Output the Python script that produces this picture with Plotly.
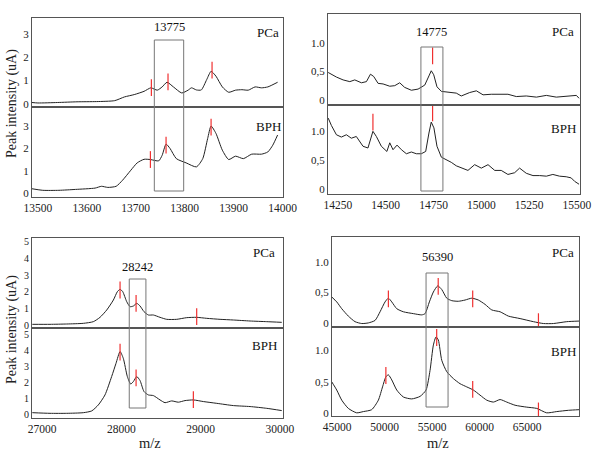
import plotly.graph_objects as go

W, H = 600, 452
FONT = "Liberation Serif, Times New Roman, serif"

# ---------------- data ----------------
# Panel A (13500-14000)
a_x_pca = [13488,13500,13540,13580,13620,13657,13677,13697,13717,13731,13744,13754,13764,13777,13794,13807,13814,13824,13834,13845,13854,13864,13877,13890,13904,13917,13930,13944,13957,13970,13990]
a_y_pca = [0.06,0.04,0.06,0.09,0.10,0.14,0.30,0.40,0.54,0.69,0.59,0.73,0.93,0.73,0.47,0.59,0.69,0.60,0.60,1.04,1.40,1.19,0.73,0.50,0.59,0.61,0.59,0.73,0.69,0.73,0.93]
a_x_bph = [13488,13510,13543,13577,13617,13630,13643,13660,13673,13690,13703,13717,13730,13747,13754,13762,13770,13783,13803,13824,13837,13847,13854,13864,13877,13890,13904,13920,13937,13957,13970,13980,13990]
a_y_bph = [0.19,0.12,0.12,0.16,0.22,0.30,0.25,0.30,0.57,1.02,1.35,1.51,1.50,1.44,1.69,2.19,2.00,1.54,1.35,1.17,1.54,2.44,3.00,2.67,1.92,1.50,1.65,1.54,1.74,1.74,1.84,2.14,2.60]
a_peak_x_pca = [13732, 13766, 13856]
a_peak_y_pca = [0.70, 0.95, 1.45]
a_peak_x_bph = [13730, 13762, 13854]
a_peak_y_bph = [1.50, 2.15, 2.95]

# Panel B (14250-15500)
b_x_pca = [14199,14242,14277,14312,14338,14373,14399,14420,14437,14460,14486,14521,14547,14573,14599,14634,14669,14704,14726,14738,14751,14768,14791,14834,14869,14895,14939,14974,15009,15052,15096,15139,15183,15235,15288,15340,15392,15445,15497,15511]
b_y_pca = [0.48,0.40,0.35,0.32,0.35,0.30,0.32,0.45,0.41,0.29,0.28,0.24,0.25,0.30,0.22,0.17,0.19,0.26,0.42,0.51,0.44,0.23,0.15,0.13,0.12,0.07,0.13,0.16,0.09,0.10,0.10,0.10,0.06,0.07,0.05,0.08,0.05,0.06,0.08,0.03]
b_x_bph = [14199,14216,14242,14268,14294,14320,14346,14381,14407,14425,14433,14451,14477,14506,14521,14538,14559,14582,14608,14634,14660,14686,14709,14726,14738,14752,14768,14791,14817,14843,14869,14904,14930,14965,15000,15035,15070,15104,15139,15174,15200,15235,15270,15305,15340,15374,15409,15444,15470,15488,15511]
b_y_bph = [1.23,1.10,0.94,0.90,0.94,0.88,0.91,0.74,0.71,0.91,1.00,0.91,0.74,0.65,0.80,0.68,0.76,0.68,0.61,0.64,0.61,0.61,0.65,0.97,1.16,1.06,0.74,0.55,0.51,0.46,0.40,0.36,0.32,0.42,0.36,0.42,0.32,0.32,0.25,0.28,0.36,0.27,0.23,0.23,0.22,0.25,0.22,0.21,0.19,0.13,0.08]
b_peak_x_pca = [14745]
b_peak_y_pca = [0.77]
b_peak_x_bph = [14433, 14745]
b_peak_y_bph = [1.16, 1.32]

# Panel C (27000-30000)
c_x_pca = [26878,27101,27311,27521,27647,27731,27816,27900,27950,27984,28018,28068,28110,28152,28194,28236,28286,28341,28404,28488,28572,28698,28824,28950,29077,29245,29413,29623,29833,30022]
c_y_pca = [0.04,0.04,0.06,0.10,0.20,0.46,0.90,1.50,2.00,2.14,2.00,1.40,1.10,1.14,1.30,1.14,0.80,0.60,0.60,0.46,0.34,0.34,0.44,0.46,0.40,0.34,0.30,0.24,0.20,0.16]
c_x_bph = [26878,27101,27311,27521,27627,27710,27794,27878,27933,27984,28025,28076,28118,28152,28194,28236,28286,28341,28404,28488,28551,28635,28719,28803,28908,29034,29203,29413,29623,29833,30022]
c_y_bph = [0.14,0.10,0.10,0.14,0.25,0.62,1.24,2.38,3.20,3.93,3.51,2.38,1.92,2.07,2.38,2.13,1.45,1.24,1.20,0.93,0.76,0.87,0.79,0.89,0.93,0.83,0.72,0.58,0.52,0.41,0.27]
c_peak_x_pca = [27984, 28186, 28950]
c_peak_y_pca = [2.10, 1.30, 0.50]
c_peak_x_bph = [27984, 28186, 28908]
c_peak_y_bph = [3.90, 2.30, 0.95]

# Panel D (45000-65000)
d_x_pca = [44442,44968,45495,46190,46895,47600,48296,49000,49528,50054,50405,50760,51286,51984,53036,53920,54266,54720,55140,55603,56024,56550,57077,57772,58477,59180,59876,60580,61288,62164,63038,64270,65670,66720,67780,69180,70510]
d_y_pca = [0.43,0.35,0.24,0.12,0.03,0.00,0.01,0.05,0.19,0.35,0.41,0.35,0.24,0.19,0.16,0.14,0.16,0.35,0.51,0.61,0.55,0.41,0.37,0.36,0.38,0.41,0.38,0.31,0.22,0.19,0.12,0.08,0.03,0.00,0.00,0.03,0.04]
d_x_bph = [44442,44968,45495,46190,47070,47775,48650,49350,49790,50140,50405,50760,51286,51984,52860,53740,54370,54790,55140,55420,55665,56024,56550,57253,57950,58650,59350,60050,60760,61460,62164,62860,63740,64970,66020,67070,68130,69360,70510]
d_y_bph = [0.50,0.37,0.21,0.08,0.01,0.03,0.06,0.21,0.42,0.58,0.61,0.53,0.37,0.26,0.23,0.27,0.37,0.68,1.08,1.21,1.16,0.84,0.66,0.55,0.47,0.42,0.37,0.29,0.21,0.18,0.22,0.18,0.13,0.10,0.08,0.01,0.03,0.05,0.06]
d_peak_x_pca = [50405, 55650, 59280, 66200]
d_peak_y_pca = [0.40, 0.60, 0.40, 0.03]
d_peak_x_bph = [50140, 55490, 59280, 66200]
d_peak_y_bph = [0.60, 1.20, 0.38, 0.04]

# highlighted windows and their labels
box_labels = ["13775", "14775", "28242", "56390"]
box_x0 = [13738, 14684, 28100, 54370]
box_x1 = [13798, 14799, 28310, 56687]

a_ticks = [13500, 13600, 13700, 13800, 13900, 14000]
b_ticks = [14250, 14500, 14750, 15000, 15250, 15500]
c_ticks = [27000, 28000, 29000, 30000]
d_ticks = [45000, 50000, 55000, 60000, 65000]
y_int3 = [0, 1, 2, 3]
y_int5 = [0, 1, 2, 3, 4, 5]
y_half_vals = [0, 0.5, 1.0]
y_half_text = ["0", "0,5", "1.0"]

# ---------------- layout helpers ----------------
def px_x(p):
    return p / W

def px_y(p):
    return 1 - p / H

fig = go.Figure()

panels = [
    dict(xp=(32, 283), yp_p=(18, 106), yp_b=(108, 197), xr=[13488, 14001], xt=a_ticks,
         yr_p=[-0.09, 3.69], yr_b=[-0.18, 3.81], yv=y_int3, yt=[str(v) for v in y_int3], yfs=11,
         d=(a_x_pca, a_y_pca, a_x_bph, a_y_bph, a_peak_x_pca, a_peak_y_pca, a_peak_x_bph, a_peak_y_bph),
         shape="spline", box_y=(40, 191), lab_y=27,
         pca_lab=(268, 32), bph_lab=(268, 127)),
    dict(xp=(328, 580), yp_p=(14, 104), yp_b=(106, 194), xr=[14198, 15516], xt=b_ticks,
         yr_p=[-0.07, 1.50], yr_b=[-0.09, 1.44], yv=y_half_vals, yt=y_half_text, yfs=11,
         d=(b_x_pca, b_y_pca, b_x_bph, b_y_bph, b_peak_x_pca, b_peak_y_pca, b_peak_x_bph, b_peak_y_bph),
         shape="linear", box_y=(47, 191), lab_y=32,
         pca_lab=(563, 31), bph_lab=(563, 128)),
    dict(xp=(32, 283), yp_p=(238, 327), yp_b=(329, 418), xr=[26874, 30038], xt=c_ticks,
         yr_p=[-0.12, 5.22], yr_b=[-0.19, 5.33], yv=y_int5, yt=[str(v) for v in y_int5], yfs=10,
         d=(c_x_pca, c_y_pca, c_x_bph, c_y_bph, c_peak_x_pca, c_peak_y_pca, c_peak_x_bph, c_peak_y_bph),
         shape="spline", box_y=(279, 408), lab_y=267,
         pca_lab=(264, 252), bph_lab=(264, 345)),
    dict(xp=(332, 579), yp_p=(237, 326), yp_b=(328, 416), xr=[44470, 70470], xt=d_ticks,
         yr_p=[-0.04, 1.40], yr_b=[-0.04, 1.35], yv=y_half_vals, yt=y_half_text, yfs=11,
         d=(d_x_pca, d_y_pca, d_x_bph, d_y_bph, d_peak_x_pca, d_peak_y_pca, d_peak_x_bph, d_peak_y_bph),
         shape="spline", box_y=(273, 407), lab_y=257,
         pca_lab=(563, 252), bph_lab=(563, 351)),
]

layout = {}
annotations = []
shapes = []
n = 0
for i, P in enumerate(panels):
    xpca, ypca, xbph, ybph, pxp, pyp, pxb, pyb = P["d"]
    for sub in ("pca", "bph"):
        n += 1
        xa = "x" if n == 1 else f"x{n}"
        ya = "y" if n == 1 else f"y{n}"
        xkey = "xaxis" if n == 1 else f"xaxis{n}"
        ykey = "yaxis" if n == 1 else f"yaxis{n}"
        ypx = P["yp_p"] if sub == "pca" else P["yp_b"]
        layout[xkey] = dict(
            domain=[px_x(P["xp"][0]), px_x(P["xp"][1])], anchor=ya,
            range=P["xr"], tickvals=P["xt"], ticktext=[str(t) for t in P["xt"]],
            showticklabels=(sub == "bph"), ticks="", showgrid=False, zeroline=False,
            showline=True, mirror=True, linecolor="#555", linewidth=1, automargin=False,
            tickfont=dict(family=FONT, size=11.5, color="#222"),
        )
        layout[ykey] = dict(
            domain=[px_y(ypx[1]), px_y(ypx[0])], anchor=xa,
            range=P["yr_p"] if sub == "pca" else P["yr_b"],
            tickvals=P["yv"], ticktext=P["yt"], ticks="", showgrid=False, zeroline=False,
            showline=True, mirror=True, linecolor="#555", linewidth=1, automargin=False,
            tickfont=dict(family=FONT, size=P["yfs"], color="#222"),
        )
        xs, ys = (xpca, ypca) if sub == "pca" else (xbph, ybph)
        kx, ky = (pxp, pyp) if sub == "pca" else (pxb, pyb)
        fig.add_trace(go.Scatter(x=xs, y=ys, mode="lines", xaxis=xa, yaxis=ya,
                                 line=dict(color="#222", width=1, shape=P["shape"], smoothing=0.6),
                                 showlegend=False, hoverinfo="skip"))
        fig.add_trace(go.Scatter(x=kx, y=ky, mode="markers", xaxis=xa, yaxis=ya,
                                 marker=dict(symbol="line-ns", size=12,
                                             line=dict(color="#f03030", width=1.2)),
                                 showlegend=False, hoverinfo="skip"))
        lab = P["pca_lab"] if sub == "pca" else P["bph_lab"]
        annotations.append(dict(text="PCa" if sub == "pca" else "BPH",
                                x=px_x(lab[0]), y=px_y(lab[1]), xref="paper", yref="paper",
                                xanchor="center", yanchor="middle",
                                showarrow=False, font=dict(family=FONT, size=13, color="#111")))
    # highlight window (spans both sub-plots)
    xa_p = "x" if i == 0 else f"x{2 * i + 1}"
    shapes.append(dict(type="rect", xref=xa_p, yref="paper",
                       x0=box_x0[i], x1=box_x1[i],
                       y0=px_y(P["box_y"][1]), y1=px_y(P["box_y"][0]),
                       line=dict(color="#777", width=1), fillcolor="rgba(0,0,0,0)", layer="above"))
    annotations.append(dict(text=box_labels[i], x=(box_x0[i] + box_x1[i]) / 2, xref=xa_p,
                            y=px_y(P["lab_y"]), yref="paper", xanchor="center", yanchor="middle",
                            showarrow=False, font=dict(family=FONT, size=12.5, color="#111")))

# axis titles
for yc in (104, 330):
    annotations.append(dict(text="Peak intensity (uA)", x=px_x(12), y=px_y(yc), xref="paper", yref="paper",
                            xanchor="center", yanchor="middle",
                            textangle=-90, showarrow=False, font=dict(family=FONT, size=14, color="#222")))
for xc in (150, 438):
    annotations.append(dict(text="m/z", x=px_x(xc), y=px_y(443), xref="paper", yref="paper",
                            xanchor="center", yanchor="middle",
                            showarrow=False, font=dict(family=FONT, size=14.5, color="#222")))

fig.update_layout(width=W, height=H, margin=dict(l=0, r=0, t=0, b=0, autoexpand=False),
                  paper_bgcolor="white", plot_bgcolor="white",
                  annotations=annotations, shapes=shapes, **layout)

fig.write_html("out.html", config={"displayModeBar": False},
               post_script="document.body.style.margin='0';")
